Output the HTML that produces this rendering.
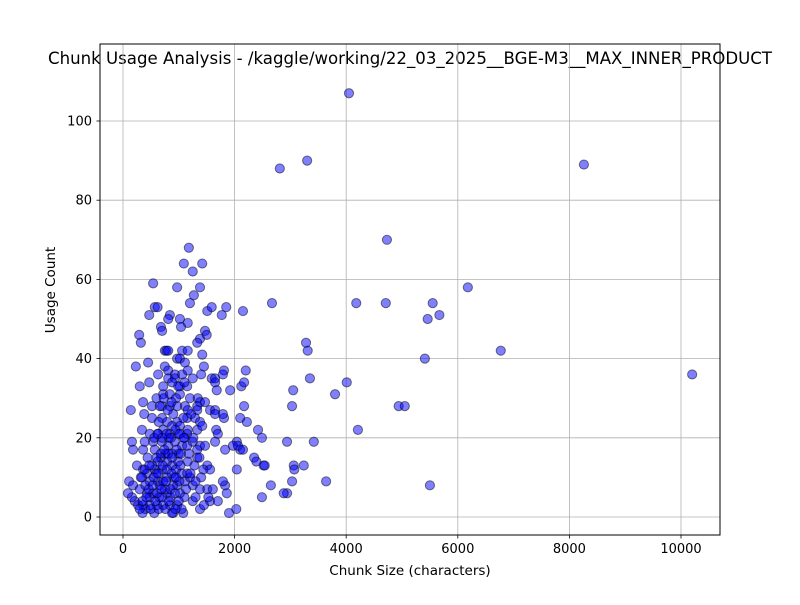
<!DOCTYPE html>
<html><head><meta charset="utf-8"><style>
body{margin:0;background:#fff;font-family:"Liberation Sans","DejaVu Sans",sans-serif}
svg text{font-family:"DejaVu Sans","Liberation Sans",sans-serif}
</style></head><body>
<svg id="chart" width="800" height="600" xmlns="http://www.w3.org/2000/svg">
<rect width="800" height="600" fill="#fff"/>
<text x="410" y="64" text-anchor="middle" font-size="16.6">Chunk Usage Analysis - /kaggle/working/22_03_2025__BGE-M3__MAX_INNER_PRODUCT</text>
<g id="grid"></g><g id="ticks"></g><g id="marks"></g>
<rect x="100" y="44" width="620" height="491" fill="none" stroke="#000" stroke-width="1"/>
<text x="410" y="575" text-anchor="middle" font-size="13.5">Chunk Size (characters)</text>
<text transform="translate(55,290) rotate(-90)" text-anchor="middle" font-size="13.5">Usage Count</text>
</svg>
<script>
const xTicks=[0,2000,4000,6000,8000,10000];
const yTicks=[0,20,40,60,80,100];
const chunkSizes=[4050,2810,3300,8260,4730,6180,6770,10200,4180,4710,5550,5460,5670,5410,4010,3800,4210,4940,5050,5500,3640,3280,3310,3350,3030,3050,3420,3240,3060,3070,3030,2940,2880,2940,2650,2670,2490,2520,2490,2420,2350,2390,2220,2200,2170,2150,2120,2170,2100,2100,2040,2040,2030,1900,1970,1920,1810,1790,1850,1770,1810,1790,1830,1860,1830,1790,1180,1090,1420,1250,540,970,1380,1270,1200,570,620,470,840,810,1020,1160,680,700,1040,1510,1590,290,320,1470,1500,1380,1330,750,780,810,1060,1160,1420,230,450,750,810,970,1020,1110,930,1060,1160,1450,630,810,930,1020,1150,1400,1590,1650,300,470,720,880,990,1250,1650,1680,720,840,1020,1200,1340,1380,140,360,520,700,840,970,1110,1160,1330,1330,1470,1560,1650,520,700,790,970,1150,1290,1380,720,880,1020,1160,1330,1420,340,480,630,840,990,1150,1670,1700,160,180,360,390,540,570,700,810,930,1060,1150,1250,1380,1330,1470,1650,2060,2150,2540,250,360,430,570,700,790,880,990,1160,1330,1510,1560,1440,110,180,340,480,630,790,970,1110,1250,1380,1510,1610,210,270,360,480,610,720,840,970,1080,1250,1380,1560,540,790,1020,430,300,660,900,160,400,560,650,750,850,920,600,680,760,880,950,1050,1100,1200,1300,1450,1530,1050,900,720,620,520,440,400,1000,1100,1220,900,640,480,350,1150,1280,1400,820,1080,380,600,950,1100,90,1700,1650,
300,350,420,500,580,640,700,760,820,880,940,1000,460,530,610,690,770,850,930,1010,320,390,470,550,630,710,790,870,950,1030,600,680,740,810,880,960,1040,560,620,700,780,860,940,1020,1090,660,730,800,870,1130,1210,1300,1370,1180,1260];
const usageCounts=[107,88,90,89,70,58,42,36,54,54,54,50,51,40,34,31,22,28,28,8,9,44,42,35,28,32,19,13,13,12,9,6,6,19,8,54,5,13,20,22,15,14,24,37,28,52,33,34,17,25,19,12,2,1,18,32,37,36,53,51,25,26,17,6,8,9,68,64,64,62,59,58,58,56,54,53,53,51,51,50,50,49,48,47,48,52,53,46,44,47,46,45,44,42,42,42,42,42,41,38,39,38,37,40,40,39,36,36,37,38,36,35,35,33,33,36,35,35,33,34,33,34,33,35,34,32,31,31,31,30,30,29,27,29,28,28,28,28,28,27,28,27,29,27,27,25,25,24,24,25,25,24,22,23,23,22,22,23,22,21,21,21,21,21,22,21,19,17,17,19,19,17,19,18,19,18,18,19,18,17,18,19,18,17,13,13,12,11,12,12,14,13,14,14,15,13,12,12,9,8,10,9,9,10,8,9,8,7,7,7,4,3,3,3,3,3,3,3,1,4,2,4,6,6,6,6,7,8,8,5,2,1,5,7,5,10,11,15,16,16,12,11,5,10,5,3,5,2,1,9,14,13,15,8,16,20,26,26,24,5,1,11,13,10,20,25,26,30,30,34,6,4,26,
2,4,5,2,4,2,5,2,4,1,2,4,7,8,6,7,9,7,6,9,10,12,13,10,11,13,12,11,10,13,15,16,17,16,15,17,16,20,21,20,21,20,22,21,20,28,30,27,29,7,11,9,15,16,20];
const NS='http://www.w3.org/2000/svg';
const xs=v=>123+v*0.0558;
const ys=v=>517-v*3.96;
const grid=document.getElementById('grid'),ticks=document.getElementById('ticks'),marks=document.getElementById('marks');
function mk(tag,attrs,parent){const e=document.createElementNS(NS,tag);for(const k in attrs)e.setAttribute(k,attrs[k]);parent.appendChild(e);return e;}
xTicks.forEach(t=>{const x=xs(t);
 const g=mk('line',{x1:x,x2:x,y1:44,y2:535,stroke:'#b0b0b0','stroke-width':0.8},grid);
 
 
 mk('line',{x1:x,x2:x,y1:535,y2:538.5,stroke:'#000','stroke-width':0.8},ticks);
 const l=mk('text',{x:x,y:553,'text-anchor':'middle','font-size':13},ticks);l.textContent=t;
 
 
});
yTicks.forEach(t=>{const y=ys(t);
 const g=mk('line',{x1:100,x2:720,y1:y,y2:y,stroke:'#b0b0b0','stroke-width':0.8},grid);
 
 
 mk('line',{x1:96.5,x2:100,y1:y,y2:y,stroke:'#000','stroke-width':0.8},ticks);
 const l=mk('text',{x:92,y:y+4.5,'text-anchor':'end','font-size':13},ticks);l.textContent=t;
 
 
});
chunkSizes.forEach((c,i)=>{
 const p=mk('circle',{cx:xs(c),cy:ys(usageCounts[i]),r:4.6,fill:'rgba(0,0,255,0.5)',stroke:'rgba(0,0,0,0.5)','stroke-width':1},marks);
 
 
});
</script>
</body></html>
